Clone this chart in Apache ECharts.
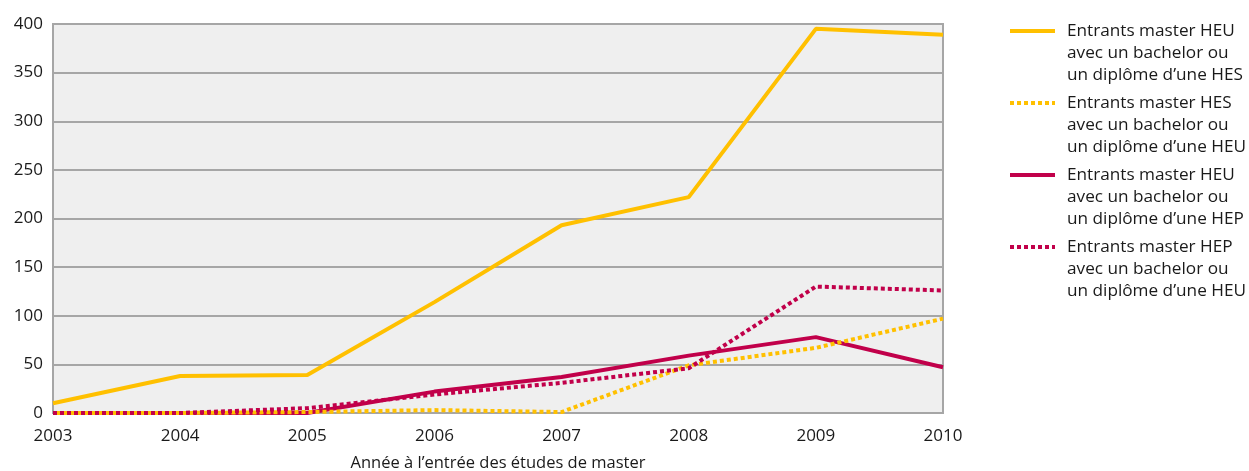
<!DOCTYPE html>
<html>
<head>
<meta charset="utf-8">
<script src="https://cdn.jsdelivr.net/npm/echarts@6/dist/echarts.min.js"></script>
<style>
html,body{margin:0;padding:0;background:#fff;}
#c{width:1249px;height:471px;}
</style>
</head>
<body>
<div id="c"></div>
<script>
var years = ['2003','2004','2005','2006','2007','2008','2009','2010'];
var heuFromHes = [10, 38, 39, 114, 193, 222, 395, 389];
var hesFromHeu = [0, 0, 1, 3, 1, 49, 67, 97];
var heuFromHep = [0, 0, 0, 22, 37, 59, 78, 47];
var hepFromHeu = [0, 0, 5, 19, 31, 46, 130, 126];
var seriesNames = [
  'Entrants master HEU\navec un bachelor ou\nun diplôme d’une HES',
  'Entrants master HES\navec un bachelor ou\nun diplôme d’une HEU',
  'Entrants master HEU\navec un bachelor ou\nun diplôme d’une HEP',
  'Entrants master HEP\navec un bachelor ou\nun diplôme d’une HEU'
];
var xAxisTitle = 'Année à l’entrée des études de master';

var YEL = '#ffc000', RED = '#c1004a';
var FONT = 'Open Sans';
var TXT = '#1a1a1a';
var chart = echarts.init(document.getElementById('c'), null, {renderer:'canvas'});
function mk(name, data, color, dotted, z, offset) {
  return {
    name: name, type: 'line', data: data, symbol: 'none', smooth: false, z: z,
    lineStyle: {color: color, width: 4, type: dotted ? [4,3] : 'solid', cap: 'butt', dashOffset: offset || 0},
    itemStyle: {color: color},
    emphasis: {disabled: true}
  };
}
chart.setOption({
  animation: false,
  textStyle: {fontFamily: FONT},
  grid: {left: 53, right: 306, top: 24, bottom: 58, show: true, outerBoundsMode: 'none',
         containLabel: false,
         backgroundColor: '#efefef', borderColor: '#a6a6a6', borderWidth: 2},
  legend: {
    orient: 'vertical', left: 1008, top: -24, padding: 0, itemGap: -38,
    itemWidth: 45, itemHeight: 14,
    itemStyle: {opacity: 0},
    lineStyle: {width: 4, dashOffset: 0},
    textStyle: {fontSize: 17.2, lineHeight: 22, color: TXT, fontFamily: FONT,
      rich: {t: {fontSize: 17.2, lineHeight: 22, color: TXT, fontFamily: FONT, padding: [0,0,0,7]}}},
    formatter: function (name) {
      return '{t| }\n{t| }\n' + name.split('\n').map(function (l) { return '{t|' + l + '}'; }).join('\n');
    },
    data: seriesNames
  },
  xAxis: {
    type: 'category', data: years, boundaryGap: false,
    axisLine: {show: true, lineStyle: {color: '#a6a6a6', width: 2}},
    axisTick: {show: false},
    axisLabel: {fontSize: 17, color: TXT, margin: 15, fontFamily: FONT},
    splitLine: {show: false},
    name: xAxisTitle, nameLocation: 'middle', nameGap: 42,
    nameTextStyle: {fontSize: 16.5, color: TXT, fontFamily: FONT}
  },
  yAxis: {
    type: 'value', min: 0, max: 400, interval: 50,
    axisLine: {show: true, lineStyle: {color: '#a6a6a6', width: 2}},
    axisTick: {show: false},
    axisLabel: {fontSize: 17, color: TXT, margin: 10, fontFamily: FONT},
    splitLine: {show: true, lineStyle: {color: '#a6a6a6', width: 2}}
  },
  series: [
    mk(seriesNames[0], heuFromHes, YEL, false, 3),
    mk(seriesNames[1], hesFromHeu, YEL, true, 4, 3.5),
    mk(seriesNames[2], heuFromHep, RED, false, 2),
    mk(seriesNames[3], hepFromHeu, RED, true, 5)
  ]
});
</script>
</body>
</html>
